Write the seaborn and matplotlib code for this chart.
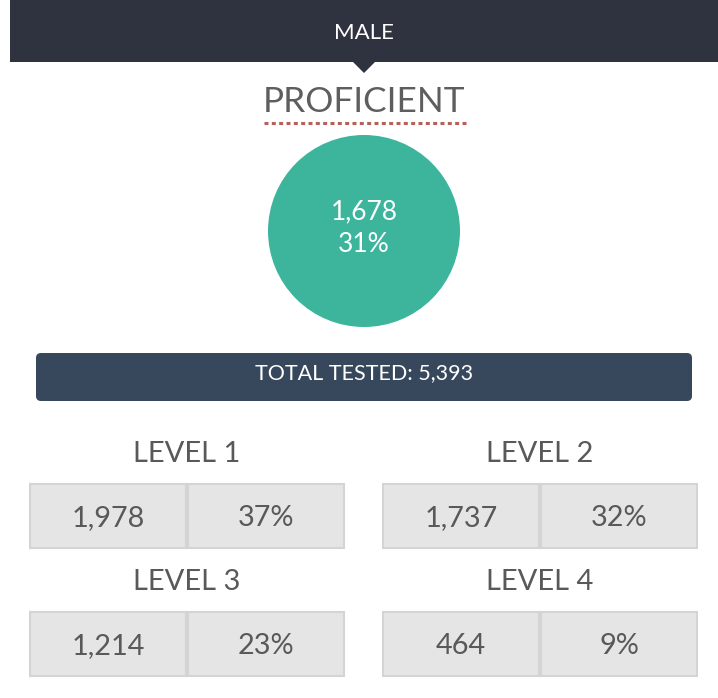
import seaborn as sns
from matplotlib import pyplot as plt
from matplotlib import patches as mpatches

# data
group = "MALE"
status = "PROFICIENT"
proficientCount = 1678
proficientPct = 31
totalTested = 5393
levels = ["LEVEL 1", "LEVEL 2", "LEVEL 3", "LEVEL 4"]
levelCounts = [1978, 1737, 1214, 464]
levelPcts = [37, 32, 23, 9]

if __name__ == "__main__":
	sns.set_theme(style="white")
	plt.rcParams["font.family"] = ["Lato", "DejaVu Sans"]

	fig = plt.figure(figsize=(7.18, 6.98), dpi=100)
	ax = fig.add_axes([0, 0, 1, 1])
	ax.set_xlim(0, 718)
	ax.set_ylim(698, 0)
	ax.axis("off")

	grey = "#595959"

	# header bar with little pointer
	ax.add_patch(mpatches.Rectangle((10, 0), 708, 62, color="#2f333f", lw=0))
	ax.add_patch(mpatches.Polygon([(353, 62), (375, 62), (364, 73)], color="#2f333f", lw=0))
	ax.text(364, 33, group, color="white", fontsize=16, ha="center", va="center")

	# proficient title + dotted underline
	ax.text(364, 102, status, color="#5e5e5e", fontsize=25.3, ha="center", va="center")
	ax.plot([264, 466], [123, 123], color="#b5615a", lw=2.2, linestyle=(0, (1.3, 1.1)), solid_capstyle="butt")

	# circle
	ax.add_patch(mpatches.Circle((364, 231), 96, color="#3db59d", lw=0))
	ax.text(364, 212, f"{proficientCount:,}", color="white", fontsize=19, ha="center", va="center")
	ax.text(364, 244, f"{proficientPct}%", color="white", fontsize=19, ha="center", va="center")

	# total tested bar
	ax.add_patch(mpatches.FancyBboxPatch((36, 353), 656, 48, boxstyle="round,pad=0,rounding_size=5",
		color="#37475c", lw=0))
	ax.text(364, 373, f"TOTAL TESTED: {totalTested:,}", color="white", fontsize=15.5, ha="center", va="center")

	# level boxes
	colX = [30, 383]
	rowY = [484, 612]
	for i, (name, cnt, pct) in enumerate(zip(levels, levelCounts, levelPcts)):
		x0 = colX[i % 2]
		y0 = rowY[i // 2]
		ax.text(x0 + 157, y0 - 30, name, color=grey, fontsize=21, ha="center", va="center")
		for j, val in enumerate([f"{cnt:,}", f"{pct}%"]):
			bx = x0 + j * 158
			ax.add_patch(mpatches.Rectangle((bx, y0), 156, 64, facecolor="#e5e5e5", edgecolor="#d4d4d4", lw=1.5))
			ax.text(bx + 78, y0 + 34, val, color=grey, fontsize=20.8, ha="center", va="center")

	fig.savefig("out.png", dpi=100)
